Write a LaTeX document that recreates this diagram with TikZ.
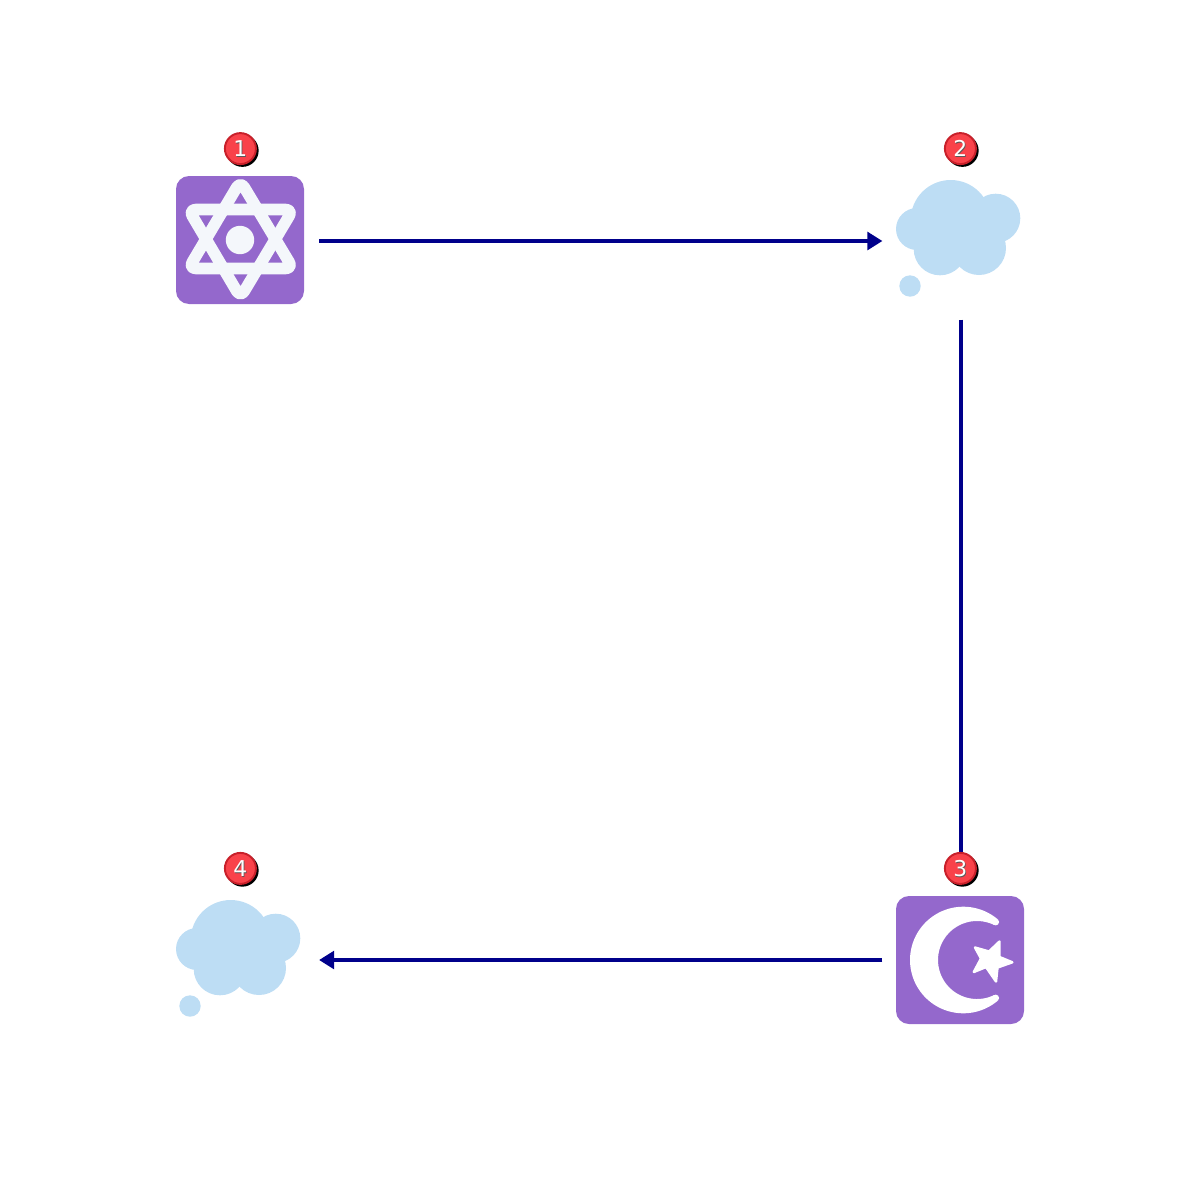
\documentclass[tikz,border=0pt]{standalone}
\usepackage{fontspec}
\setmainfont{DejaVu Sans}
\usetikzlibrary{arrows.meta}
\definecolor{iconpurple}{HTML}{9468CC}
\definecolor{starwhite}{HTML}{F4F7FB}
\definecolor{cloudblue}{HTML}{BDDDF4}
\definecolor{badgered}{HTML}{F9424A}
\definecolor{badgeedge}{HTML}{C8202A}
\definecolor{linkblue}{HTML}{00008B}
\tikzset{
  anchorbox/.style={minimum size=1.57cm,inner sep=0pt,outer sep=0pt},
  iconsquare/.style={fill=iconpurple,rounded corners=0.13cm},
  starline/.style={draw=starwhite,line width=3.3pt,line join=round,rounded corners=0.075cm},
  cloudfill/.style={fill=cloudblue},
  linkline/.style={draw=linkblue,line width=1.2pt},
  linkarrow/.style={linkline,-{Triangle[length=0.15cm,width=0.175cm]}},
  badge/.style={circle,fill=badgered,draw=badgeedge,line width=0.55pt,minimum size=0.31cm,inner sep=0pt},
  badgeshadow/.style={circle,fill=black,minimum size=0.325cm,inner sep=0pt},
  badgetext/.style={text=white,font=\fontsize{6.2pt}{6.2pt}\selectfont,inner sep=0pt},
  badgetextshadow/.style={text=black!65,font=\fontsize{6.2pt}{6.2pt}\selectfont,inner sep=0pt}
}
\newcommand{\cloudat}[2]{%
  \begin{scope}[shift={(#1,#2)}]
    \fill[cloudfill] (950.7,220) circle (40);
    \fill[cloudfill] (995.7,218.3) circle (24.6);
    \fill[cloudfill] (917,229) circle (21);
    \fill[cloudfill] (940,249) circle (26.3);
    \fill[cloudfill] (979,248) circle (27);
    \fill[cloudfill] (910,286) circle (10.7);
  \end{scope}}
\newcommand{\badgeat}[3]{%
  \node[badgeshadow] at (#1+2,#2+2) {};
  \node[badge] at (#1,#2) {};
  \node[badgetextshadow] at (#1+0.6,#2+0.7) {#3};
  \node[badgetext] at (#1,#2) {#3};}
\begin{document}
\begin{tikzpicture}[x=0.01cm,y=-0.01cm]
\useasboundingbox (0,0) rectangle (1200,1200);
\node[anchorbox] (n1) at (240.5,241) {};
\node[anchorbox] (n2) at (961,241) {};
\node[anchorbox] (n3) at (961,960) {};
\node[anchorbox] (n4) at (240.5,960) {};
\draw[linkarrow] (n1) -- (n2);
\draw[linkarrow] (n2) -- (n3);
\draw[linkarrow] (n3) -- (n4);
% icon 1
\fill[iconsquare] (176,176) rectangle (304,304);
\draw[starline] (240.5,181) -- (293,268.5) -- (188.5,268.5) -- cycle;
\draw[starline] (240.5,297.5) -- (188.5,209.5) -- (293,209.5) -- cycle;
\fill[starwhite] (240,240) circle (14.2);
% clouds
\cloudat{0}{0}
\cloudat{-720}{720}
% icon 3
\fill[iconsquare] (896,896) rectangle (1024,1024);
\fill[white] plot[domain=50.3:309.7,samples=90] ({963.3+53.3*cos(\x)},{960+53.3*sin(\x)})
  -- plot[domain=296:64,samples=70] ({977+39*cos(\x)},{960+39*sin(\x)}) -- cycle;
\fill[white] (995.7,922) circle (3.4);
\fill[white] (995.7,998) circle (3.4);
\fill[white,draw=white,line width=0.7pt,line join=round]
  (999.5,941.5) -- (999.5,957) -- (1012.3,962.3) -- (997.5,967.5) -- (996,981.5)
  -- (986,967) -- (973.8,972) -- (981,958.5) -- (975,947.5) -- (989,951.5) -- cycle;
% badges
\badgeat{240.4}{148.6}{1}
\badgeat{960.4}{148.6}{2}
\badgeat{960.4}{868.4}{3}
\badgeat{240.4}{868.4}{4}
\end{tikzpicture}
\end{document}
